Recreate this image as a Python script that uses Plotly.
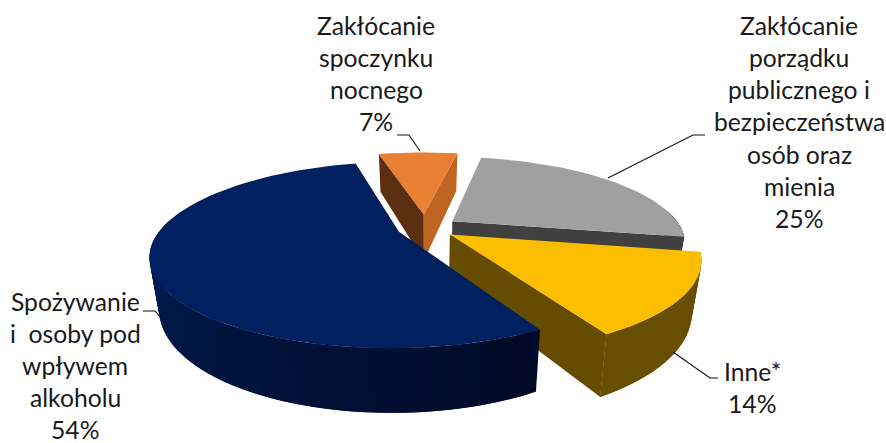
import math
import plotly.graph_objects as go

categories = ["Zakłócanie spoczynku nocnego", "Zakłócanie porządku publicznego i bezpieczeństwa osób oraz mienia",
              "Inne*", "Spożywanie i osoby pod wpływem alkoholu"]
values = [7, 25, 14, 54]
top_colors = ["#E97F33", "#A0A0A0", "#FBBE00", "#002060"]
label_lines = [
    ["Zakłócanie", "spoczynku", "nocnego", "7%"],
    ["Zakłócanie", "porządku", "publicznego i", "bezpieczeństwa", "osób oraz", "mienia", "25%"],
    ["Inne*", "14%"],
    ["Spożywanie", "i  osoby pod", "wpływem", "alkoholu", "54%"],
]

# pie geometry (pixels of the 886x443 page)
CX, CY, R, RK, P, H, BOTTOM = 425, 228, 241, 87, 0.25, 48, 0.965
START = -14.5
EXPLODE = [0.16, 0.14, 0.125, 0.115]
RADIUS = [0.95, 0.95, 0.985, 0.985]
# label layout: centre x, first line y, line height
LABEL_POS = [(376, 25, 32), (799, 25, 32.3), (752, 371, 32), (75, 301.5, 32)]
LEADERS = [([397, 409, 420], [135, 135, 151]),
           ([608, 693, 705], [178, 135, 135]),
           ([673, 710, 718], [352, 378, 378]),
           ([143, 155, 165], [311, 311, 322])]


def project(x, y, bottom=False):
    s = 1 / (1 + P * y)
    if bottom:
        return CX + R * x * s * BOTTOM, CY - RK * y * s + H * s
    return CX + R * x * s, CY - RK * y * s


def mix(c1, c2, t):
    return "rgb(%d,%d,%d)" % tuple(c1[i] + (c2[i] - c1[i]) * t for i in range(3))


fig = go.Figure()


def poly(pts, color):
    xs = [p[0] for p in pts] + [pts[0][0]]
    ys = [p[1] for p in pts] + [pts[0][1]]
    fig.add_trace(go.Scatter(x=xs, y=ys, mode="lines", fill="toself", fillcolor=color,
                             line=dict(width=0), hoverinfo="skip", showlegend=False))


total = sum(values)
angle = START
spans = []
for v in values:
    spans.append((angle, angle + 360 * v / total))
    angle += 360 * v / total

# radial wall colours (start wall, end wall) and rim gradient (from, to)
radial = [("#5C2F12", "#BE6524"), (None, "#404040"), (None, "#654C00"), (None, None)]
rim = [((92, 47, 18), (190, 101, 36)), ((64, 64, 64), (64, 64, 64)),
       ((104, 78, 0), (104, 78, 0)), ((0, 10, 38), (0, 30, 84))]

for i, (a0, a1) in enumerate(spans):
    mid = math.radians((a0 + a1) / 2)
    ox, oy = EXPLODE[i] * math.sin(mid), EXPLODE[i] * math.cos(mid)
    n = max(4, int((a1 - a0) / 2))
    angs = [math.radians(a0 + (a1 - a0) * k / n) for k in range(n + 1)]
    rimpts = [(ox + RADIUS[i] * math.sin(t), oy + RADIUS[i] * math.cos(t)) for t in angs]
    # rim wall, only the part facing the viewer; each piece overlaps the next to hide seams
    for k in range(n):
        ta = (angs[k] + angs[k + 1]) / 2
        if math.cos(ta) > 0.12:
            continue
        a, b = rimpts[k], rimpts[min(k + 2, n)]
        t = max(0.0, min(1.0, (math.degrees(ta) % 360 - 151) / 120))
        poly([project(*a), project(*b), project(*b, True), project(*a, True)], mix(*rim[i], t))
    # radial cut walls
    for edge, col in ((rimpts[0], radial[i][0]), (rimpts[-1], radial[i][1])):
        if col:
            poly([project(ox, oy), project(*edge), project(*edge, True), project(ox, oy, True)], col)
    # top face
    poly([project(ox, oy)] + [project(*p) for p in rimpts], top_colors[i])

for xs, ys in LEADERS:
    fig.add_trace(go.Scatter(x=xs, y=ys, mode="lines", line=dict(color="#111111", width=1.1),
                             hoverinfo="skip", showlegend=False))

for lines, (x, y0, dy) in zip(label_lines, LABEL_POS):
    for j, text in enumerate(lines):
        fig.add_annotation(x=x, y=y0 + j * dy, text=text, showarrow=False, xanchor="center", yanchor="middle",
                           font=dict(family="Lato", size=24.7, color="#1a1a1a"))

fig.update_layout(
    width=886, height=443, margin=dict(l=0, r=0, t=0, b=0),
    paper_bgcolor="white", plot_bgcolor="white", showlegend=False,
    xaxis=dict(range=[0, 886], visible=False, fixedrange=True),
    yaxis=dict(range=[443, 0], visible=False, fixedrange=True),
)
fig.write_html("out.html", config={"displayModeBar": False},
               post_script="document.body.style.margin='0';document.documentElement.style.overflow='hidden';")
